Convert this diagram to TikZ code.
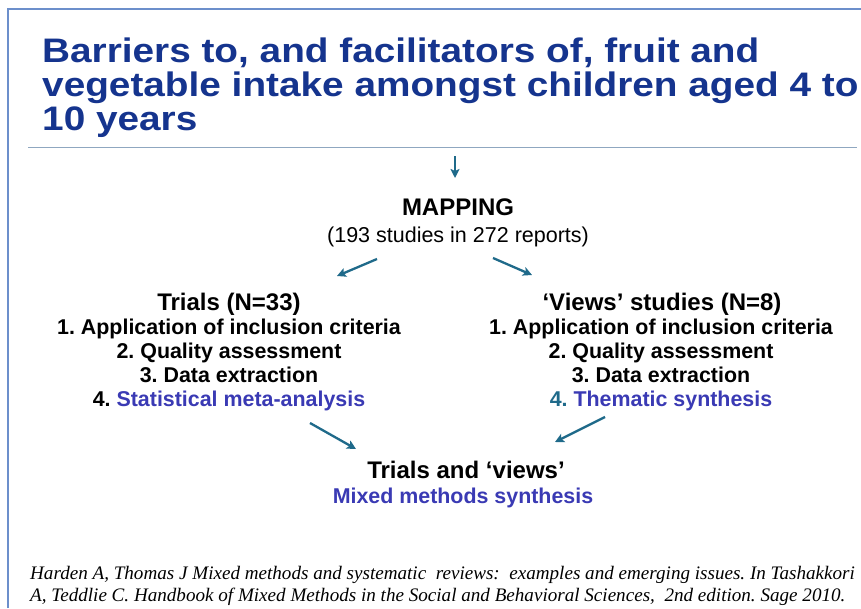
\documentclass[tikz,border=0pt]{standalone}
\usepackage{fontspec}
\setmainfont{Liberation Sans}
\newfontfamily\citefont{Liberation Serif}
\usetikzlibrary{arrows.meta}
\definecolor{titleblue}{HTML}{15348E}
\definecolor{accent}{HTML}{3A3AB4}
\definecolor{arrowcol}{HTML}{1F6A8A}
\definecolor{framecol}{HTML}{6C8FCB}
\definecolor{rulecol}{HTML}{8FA7C0}
\definecolor{tealnum}{HTML}{1F6A8A}
\tikzset{
  conn/.style={draw=arrowcol, line width=2.3pt, -{Stealth[length=9pt,width=9pt,inset=2pt]}},
  txt/.style={inner sep=0pt, anchor=base, align=center},
  headfont/.style={font=\fontsize{24}{26}\selectfont\bfseries},
  itemfont/.style={font=\fontsize{21.4}{24}\selectfont\bfseries},
  titlefont/.style={inner sep=0pt, anchor=base west, text=titleblue, font=\fontsize{34}{36}\selectfont\bfseries},
  citestyle/.style={inner sep=0pt, anchor=base west, font=\citefont\itshape\fontsize{19.1}{22}\selectfont},
}
\begin{document}
\frenchspacing
\begin{tikzpicture}[x=1pt,y=-1pt]
\useasboundingbox (0,0) rectangle (861,608);
\fill[white] (0,0) rectangle (861,608);
% frame
\draw[framecol, line width=1.5pt] (8,608) -- (8,9) -- (861,9);
% title
\node[titlefont] (t1) at (42,62) {\scalebox{1.14}[1]{Barriers to, and facilitators of, fruit and}};
\node[titlefont] (t2) at (42,96) {\scalebox{1.14}[1]{vegetable intake amongst children aged 4 to}};
\node[titlefont] (t3) at (42,130) {\scalebox{1.14}[1]{10 years}};
\draw[rulecol, line width=0.8pt] (28,147) -- (857,147);
% top arrow
\coordinate (topA) at (455,156);
\coordinate (topB) at (455,178);
\draw[conn] (topA) -- (topB);
% mapping
\node[txt, headfont] (map) at (458,215) {MAPPING};
\node[txt, font=\fontsize{21.5}{24}\selectfont] (mapsub) at (458,242) {(193 studies in 272 reports)};
\coordinate (l1a) at (377,259);
\coordinate (l1b) at (337,276);
\coordinate (r1a) at (493,258);
\coordinate (r1b) at (532,275);
\draw[conn] (l1a) -- (l1b);
\draw[conn] (r1a) -- (r1b);
% left block
\node[txt, headfont] (lt) at (229,310) {Trials (N=33)};
\node[txt, itemfont] (l1) at (229,334) {1. Application of inclusion criteria};
\node[txt, itemfont] (l2) at (229,358) {2. Quality assessment};
\node[txt, itemfont] (l3) at (229,382) {3. Data extraction};
\node[txt, itemfont] (l4) at (229,406) {4. \textcolor{accent}{Statistical meta-analysis}};
% right block
\node[txt, headfont] (rt) at (662,310) {‘Views’ studies (N=8)};
\node[txt, itemfont] (r1) at (661,334) {1. Application of inclusion criteria};
\node[txt, itemfont] (r2) at (661,358) {2. Quality assessment};
\node[txt, itemfont] (r3) at (661,382) {3. Data extraction};
\node[txt, itemfont] (r4) at (661,406) {\textcolor{tealnum}{4.} \textcolor{accent}{Thematic synthesis}};
% bottom arrows
\coordinate (l2a) at (310,423);
\coordinate (l2b) at (356,449);
\coordinate (r2a) at (605,417);
\coordinate (r2b) at (555,442);
\draw[conn] (l2a) -- (l2b);
\draw[conn] (r2a) -- (r2b);
% bottom
\node[txt, headfont] (bt) at (466,478) {Trials and ‘views’};
\node[txt, itemfont, text=accent] (bs) at (463,503) {Mixed methods synthesis};
% citation
\node[citestyle] (c1) at (30,579) {Harden A, Thomas J Mixed methods and systematic\ \ reviews:\ \ examples and emerging issues. In Tashakkori};
\node[citestyle] (c2) at (30,601) {A, Teddlie C. Handbook of Mixed Methods in the Social and Behavioral Sciences,\ \ 2nd edition. Sage 2010.};
\end{tikzpicture}
\end{document}
